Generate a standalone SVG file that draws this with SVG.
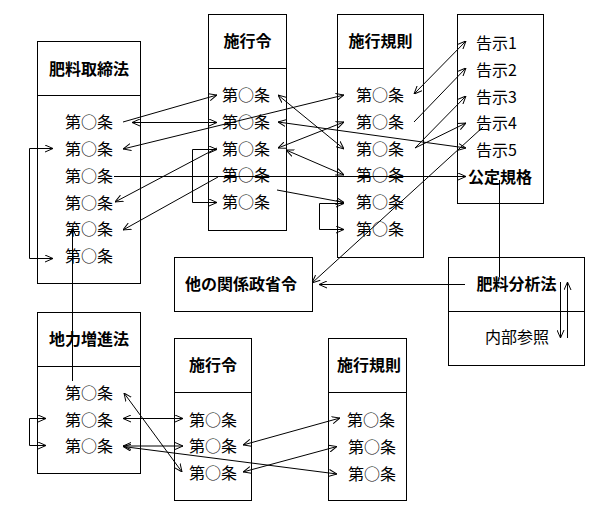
<svg xmlns="http://www.w3.org/2000/svg" width="616" height="526" viewBox="0 0 616 526">
<style>
.box{fill:#fff;stroke:#000;stroke-width:1}
.t{font-family:"Noto Sans CJK JP","Noto Sans",sans-serif;font-size:16px;fill:#000}
.h{font-weight:bold;text-anchor:middle}
.m{text-anchor:middle}
.c{fill:none;stroke:#000;stroke-width:1}
.e{marker-end:url(#ah)}
.s{marker-start:url(#ah)}
.b{marker-start:url(#ah);marker-end:url(#ah)}
</style>
<defs>
<marker id="ah" viewBox="0 0 8 8" refX="8" refY="4" markerWidth="8" markerHeight="8" markerUnits="userSpaceOnUse" orient="auto-start-reverse">
<path d="M0,0.5 L8,4 L0,7.5" fill="none" stroke="#000" stroke-width="1"/>
</marker>
</defs>
<rect width="616" height="526" fill="#fff"/>

<g id="hiryo-torishimari">
<rect class="box" x="37.5" y="41.5" width="103" height="242"/>
<line class="c" x1="37.5" y1="95.5" x2="140.5" y2="95.5"/>
<text class="t h" x="89" y="74.5">肥料取締法</text>
<text class="t" x="65" y="128">第○条</text>
<text class="t" x="65" y="154.5">第○条</text>
<text class="t" x="65" y="181.5">第○条</text>
<text class="t" x="65" y="208.5">第○条</text>
<text class="t" x="65" y="235">第○条</text>
<text class="t" x="65" y="262">第○条</text>
</g>

<g id="sekorei-top">
<rect class="box" x="208.5" y="14.5" width="78" height="216"/>
<line class="c" x1="208.5" y1="68.5" x2="286.5" y2="68.5"/>
<text class="t h" x="247.5" y="47">施行令</text>
<text class="t" x="222" y="101">第○条</text>
<text class="t" x="222" y="128">第○条</text>
<text class="t" x="222" y="154.5">第○条</text>
<text class="t" x="222" y="181">第○条</text>
<text class="t" x="222" y="208">第○条</text>
</g>

<g id="sekokisoku-top">
<rect class="box" x="337.5" y="14.5" width="86" height="243"/>
<line class="c" x1="337.5" y1="68.5" x2="423.5" y2="68.5"/>
<text class="t h" x="380.5" y="47">施行規則</text>
<text class="t" x="356" y="101">第○条</text>
<text class="t" x="356" y="128">第○条</text>
<text class="t" x="356" y="154.5">第○条</text>
<text class="t" x="356" y="181">第○条</text>
<text class="t" x="356" y="208">第○条</text>
<text class="t" x="356" y="234.5">第○条</text>
</g>

<g id="kokuji">
<rect class="box" x="457.5" y="14.5" width="86" height="189"/>
<text class="t" x="476" y="49">告示1</text>
<text class="t" x="476" y="75.5">告示2</text>
<text class="t" x="476" y="102.5">告示3</text>
<text class="t" x="476" y="129">告示4</text>
<text class="t" x="476" y="156">告示5</text>
<text class="t" x="468" y="182.5" font-weight="bold">公定規格</text>
</g>

<g id="hoka-seishorei">
<rect class="box" x="174.5" y="257.5" width="138" height="54"/>
<text class="t h" x="241" y="290">他の関係政省令</text>
</g>

<g id="hiryo-bunseki">
<rect class="box" x="448.5" y="257.5" width="136" height="108"/>
<line class="c" x1="448.5" y1="311.5" x2="584.5" y2="311.5"/>
<text class="t h" x="516.5" y="290">肥料分析法</text>
<text class="t m" x="517" y="343">内部参照</text>
</g>

<g id="chiryoku-zoshin">
<rect class="box" x="37.5" y="312.5" width="103" height="161"/>
<line class="c" x1="37.5" y1="366.5" x2="140.5" y2="366.5"/>
<text class="t h" x="89" y="345">地力増進法</text>
<text class="t" x="65" y="399">第○条</text>
<text class="t" x="65" y="425.5">第○条</text>
<text class="t" x="65" y="452">第○条</text>
</g>

<g id="sekorei-bottom">
<rect class="box" x="174.5" y="338.5" width="77" height="162"/>
<line class="c" x1="174.5" y1="392.5" x2="251.5" y2="392.5"/>
<text class="t h" x="213" y="371">施行令</text>
<text class="t" x="189" y="425.5">第○条</text>
<text class="t" x="189" y="452">第○条</text>
<text class="t" x="189" y="479">第○条</text>
</g>

<g id="sekokisoku-bottom">
<rect class="box" x="328.5" y="338.5" width="78" height="162"/>
<line class="c" x1="328.5" y1="392.5" x2="406.5" y2="392.5"/>
<text class="t h" x="369" y="371">施行規則</text>
<text class="t" x="347" y="425.5">第○条</text>
<text class="t" x="348" y="452.5">第○条</text>
<text class="t" x="348" y="480">第○条</text>
</g>

<g id="connectors">
<!-- 肥料取締法 <-> 施行令 / 施行規則 -->
<line class="c e" x1="123" y1="122" x2="217" y2="95"/>
<line class="c b" x1="132" y1="122.5" x2="217" y2="122.5"/>
<line class="c b" x1="123" y1="149" x2="344" y2="95"/>
<line class="c s" x1="115" y1="202" x2="217" y2="148"/>
<line class="c s" x1="123" y1="230" x2="218" y2="177"/>
<path class="c b" d="M217,149.5 H192.5 V202.5 H217"/>
<line class="c e" x1="114" y1="176.5" x2="466" y2="176.5"/>
<path class="c b" d="M53,148.5 H29.5 V258.5 H53"/>
<line class="c s" x1="72.5" y1="228" x2="72.5" y2="381"/>
<!-- 施行令 <-> 施行規則 / 告示 -->
<line class="c b" x1="278" y1="95" x2="344" y2="149"/>
<line class="c b" x1="278" y1="122" x2="466" y2="148"/>
<line class="c b" x1="278" y1="148" x2="344" y2="122"/>
<line class="c b" x1="286" y1="150" x2="344" y2="175"/>
<line class="c e" x1="277" y1="190" x2="344" y2="202.5"/>
<path class="c b" d="M344,203.5 H319.5 V229.5 H344"/>
<!-- 施行規則 -> 告示 -->
<line class="c b" x1="414" y1="94" x2="466" y2="41"/>
<line class="c e" x1="414" y1="122" x2="466" y2="68"/>
<line class="c e" x1="415" y1="148" x2="466" y2="96"/>
<line class="c e" x1="415" y1="148" x2="466" y2="123"/>
<line class="c e" x1="483" y1="127" x2="312" y2="283"/>
<!-- 公定規格 / 肥料分析法 -->
<line class="c" x1="499.5" y1="180" x2="499.5" y2="277"/>
<line class="c e" x1="465" y1="284.5" x2="319" y2="284.5"/>
<line class="c e" x1="560.5" y1="282" x2="560.5" y2="338"/>
<line class="c e" x1="567.5" y1="338" x2="567.5" y2="282"/>
<!-- 地力増進法 -->
<path class="c b" d="M46,418.5 H29.5 V445.5 H46"/>
<line class="c b" x1="123" y1="418.5" x2="183" y2="418.5"/>
<line class="c b" x1="123" y1="446" x2="183" y2="446"/>
<line class="c b" x1="123" y1="446.5" x2="337" y2="474"/>
<line class="c b" x1="124" y1="393" x2="182" y2="472"/>
<line class="c b" x1="243" y1="445" x2="340" y2="418"/>
<line class="c b" x1="243" y1="472" x2="337" y2="446.5"/>
</g>
</svg>
